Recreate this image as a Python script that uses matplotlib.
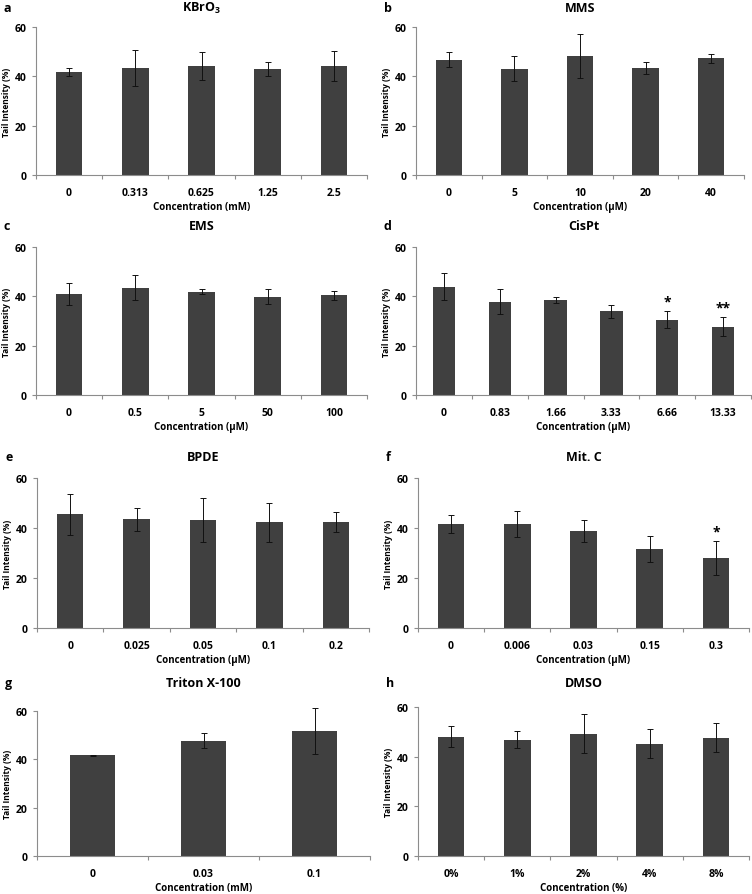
import numpy as np
import matplotlib.pyplot as plt

plt.rcParams['font.family'] = ['Open Sans', 'DejaVu Sans']
plt.rcParams['font.weight'] = 'bold'
plt.rcParams['mathtext.fontset'] = 'custom'
plt.rcParams['mathtext.bf'] = 'Open Sans:bold'

# panel data (mean tail intensity %, error)
kbro3_conc = ['0', '0.313', '0.625', '1.25', '2.5']
kbro3_mean = [41.7, 43.3, 44.1, 43.0, 44.1]
kbro3_err = [1.7, 7.2, 5.7, 2.9, 6.1]

mms_conc = ['0', '5', '10', '20', '40']
mms_mean = [46.8, 43.1, 48.2, 43.4, 47.3]
mms_err = [3.2, 5.1, 9.0, 2.4, 1.9]

ems_conc = ['0', '0.5', '5', '50', '100']
ems_mean = [40.9, 43.5, 41.9, 39.9, 40.5]
ems_err = [4.6, 5.1, 0.9, 3.2, 1.8]

cispt_conc = ['0', '0.83', '1.66', '3.33', '6.66', '13.33']
cispt_mean = [43.9, 37.8, 38.6, 33.9, 30.5, 27.7]
cispt_err = [5.5, 5.0, 1.3, 2.6, 3.4, 3.9]
cispt_sig = ['', '', '', '', '*', '**']

bpde_conc = ['0', '0.025', '0.05', '0.1', '0.2']
bpde_mean = [45.5, 43.5, 43.2, 42.3, 42.5]
bpde_err = [8.2, 4.5, 8.8, 7.7, 3.9]

mitc_conc = ['0', '0.006', '0.03', '0.15', '0.3']
mitc_mean = [41.5, 41.7, 38.9, 31.7, 28.0]
mitc_err = [3.6, 5.2, 4.4, 5.2, 6.9]
mitc_sig = ['', '', '', '', '*']

triton_conc = ['0', '0.03', '0.1']
triton_mean = [41.6, 47.7, 51.8]
triton_err = [0.4, 3.0, 9.6]

dmso_conc = ['0%', '1%', '2%', '4%', '8%']
dmso_mean = [48.1, 46.9, 49.2, 45.3, 47.7]
dmso_err = [4.3, 3.3, 7.8, 6.0, 5.7]

W, H = 752, 895
fig = plt.figure(figsize=(W / 100, H / 100), dpi=100)

# letter, title, xlabel, cats, mean, err, sig, (left, right, top, bottom) in px, title y
panels = [
    ('a', r'KBrO$_\mathbf{3}$', 'Concentration (mM)', kbro3_conc, kbro3_mean, kbro3_err, None, (36, 367, 28, 176), 8),
    ('b', 'MMS', 'Concentration (µM)', mms_conc, mms_mean, mms_err, None, (416, 744, 28, 176), 8),
    ('c', 'EMS', 'Concentration (µM)', ems_conc, ems_mean, ems_err, None, (36, 367, 248, 396), 227),
    ('d', 'CisPt', 'Concentration (µM)', cispt_conc, cispt_mean, cispt_err, cispt_sig, (416, 751, 248, 396), 227),
    ('e', 'BPDE', 'Concentration (µM)', bpde_conc, bpde_mean, bpde_err, None, (37, 369, 479, 629), 458),
    ('f', 'Mit. C', 'Concentration (µM)', mitc_conc, mitc_mean, mitc_err, mitc_sig, (418, 749, 479, 629), 458),
    ('g', 'Triton X-100', 'Concentration (mM)', triton_conc, triton_mean, triton_err, None, (37, 370, 712, 857), 684),
    ('h', 'DMSO', 'Concentration (%)', dmso_conc, dmso_mean, dmso_err, None, (418, 749, 708, 857), 684),
]

axis_col = '#8c8c8c'
for letter, title, xlab, cats, mean, err, sig, box, ty in panels:
    l, r, t, b = box
    ax = fig.add_axes([l / W, 1 - b / H, (r - l) / W, (b - t) / H])
    x = np.arange(len(cats))
    ax.bar(x, mean, width=0.4, color='#404040', zorder=2)
    eb = ax.errorbar(x, mean, yerr=err, fmt='none', ecolor='#111111', elinewidth=0.7,
                     capsize=2, capthick=0.7, zorder=3)
    for art in eb.lines[1] + eb.lines[2]:
        art.set_clip_on(False)
    if sig:
        for xi, m, e, s in zip(x, mean, err, sig):
            if s:
                ax.text(xi, m + e + 1.0, s, ha='center', va='bottom', fontsize=10, fontweight='bold')
    ax.set_xlim(-0.5, len(cats) - 0.5)
    ax.set_ylim(0, 60)
    ax.set_yticks([0, 20, 40, 60])
    ax.set_xticks(x)
    ax.set_xticklabels(cats)
    ax.set_xticks(np.arange(len(cats) + 1) - 0.5, minor=True)
    ax.tick_params(axis='x', which='major', length=0, pad=9, labelsize=7.5)
    ax.tick_params(axis='x', which='minor', length=3, color=axis_col, width=0.8)
    ax.tick_params(axis='y', length=3, color=axis_col, width=0.8, labelsize=7.5, pad=4)
    for s in ['top', 'right']:
        ax.spines[s].set_visible(False)
    for s in ['left', 'bottom']:
        ax.spines[s].set_color(axis_col)
        ax.spines[s].set_linewidth(0.8)
    ax.set_xlabel(xlab, fontsize=7, fontweight='bold', labelpad=2)
    ax.set_ylabel('Tail Intensity (%)', fontsize=6, fontweight='bold')
    ax.yaxis.set_label_coords(-25 / (r - l), 0.5)
    fig.text((l + r) / 2 / W, 1 - ty / H, title, ha='center', va='center', fontsize=9, fontweight='bold')
    fig.text((l - 32) / W, 1 - ty / H, letter, ha='left', va='center', fontsize=9, fontweight='bold')

fig.savefig('out.png', dpi=100)
